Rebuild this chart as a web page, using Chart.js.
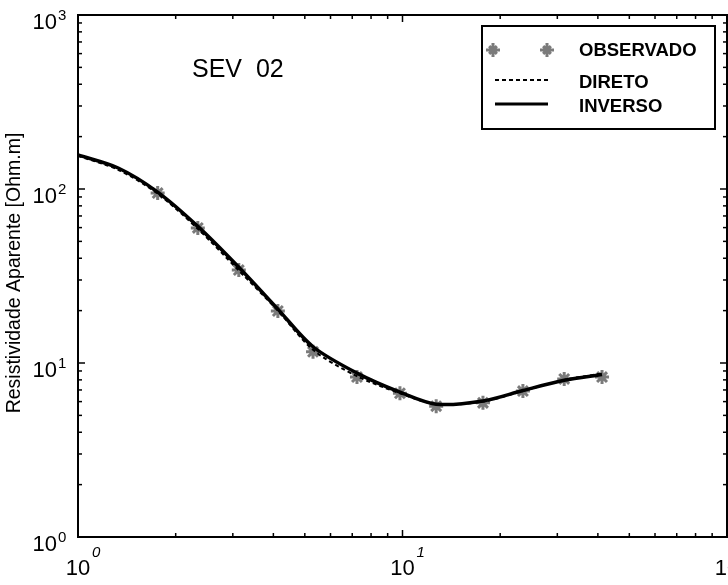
<!DOCTYPE html>
<html>
<head>
<meta charset="utf-8">
<script src="https://cdn.jsdelivr.net/npm/chart.js@4/dist/chart.umd.min.js"></script>
<style>
  html, body { margin: 0; padding: 0; background: #fff; overflow: hidden; }
  #wrap { width: 728px; height: 585px; overflow: hidden; }
  canvas { display: block; }
</style>
</head>
<body>
<!-- canvas um pouco mais largo: o Chart.js reserva ~10px a direita para os marcadores,
     e a figura original corta o rotulo 10^2 na borda -->
<div id="wrap"><canvas id="sev" width="737" height="585"></canvas></div>
<script>
// AB/2 dos pontos medidos e resistividade aparente observada
const abertura = [1.76, 2.34, 3.13, 4.13, 5.3, 7.24, 9.82, 12.7, 17.7, 23.5, 31.5, 41.2];
const observado = [94.8, 59.7, 34.2, 19.9, 11.6, 8.3, 6.7, 5.65, 5.9, 6.9, 8.1, 8.3];

// curvas do modelo (direto e inverso)
const aberturaModelo = [1.0, 1.33, 1.76, 2.34, 3.13, 4.13, 5.3, 7.24, 9.82, 12.7, 17.7, 23.5, 31.5, 41.2];
const direto = [155, 129, 94, 59, 34, 20, 11.9, 8.4, 6.7, 5.8, 6.0, 6.9, 8.0, 8.7];
const inverso = [157, 132, 96, 61, 35.5, 20.4, 12.4, 8.75, 6.8, 5.8, 6.05, 6.95, 7.95, 8.6];

const xDecadas = [0, 1, 2];
const yDecadas = [0, 1, 2, 3];

const FONT = '"Liberation Sans", Arial, sans-serif';
const CINZA = '#7b7b7b';

const pares = (xs, ys) => xs.map((x, i) => ({ x, y: ys[i] }));

// desenha moldura, ticks internos, rotulos e legenda
const moldura = {
  id: 'moldura',
  afterDraw(chart) {
    const { ctx, chartArea: a, scales } = chart;
    const sx = scales.x, sy = scales.y;
    ctx.save();
    ctx.strokeStyle = '#000';
    ctx.fillStyle = '#000';

    // ticks internos
    ctx.lineWidth = 1.5;
    const tick = (x1, y1, x2, y2) => {
      ctx.beginPath(); ctx.moveTo(x1, y1); ctx.lineTo(x2, y2); ctx.stroke();
    };
    for (let d = 0; d < 2; d++) {
      for (let m = 1; m <= 9; m++) {
        const px = sx.getPixelForValue(m * Math.pow(10, d));
        const len = m === 1 ? 7 : 4;
        tick(px, a.bottom, px, a.bottom - len);
        tick(px, a.top, px, a.top + len);
      }
    }
    for (let d = 0; d < 3; d++) {
      for (let m = 1; m <= 9; m++) {
        const py = sy.getPixelForValue(m * Math.pow(10, d));
        const len = m === 1 ? 7 : 4;
        tick(a.left, py, a.left + len, py);
        tick(a.right, py, a.right - len, py);
      }
    }

    // moldura
    ctx.lineWidth = 2;
    ctx.strokeRect(a.left, a.top, a.right - a.left, a.bottom - a.top);

    // rotulos do eixo y
    ctx.textBaseline = 'alphabetic';
    yDecadas.forEach(e => {
      const py = sy.getPixelForValue(Math.pow(10, e));
      ctx.font = '22px ' + FONT;
      ctx.textAlign = 'right';
      ctx.fillText('10', 57, py + 14);
      ctx.font = '15px ' + FONT;
      ctx.textAlign = 'left';
      ctx.fillText(String(e), 58, py + 5);
    });

    // rotulos do eixo x
    xDecadas.forEach(e => {
      const px = sx.getPixelForValue(Math.pow(10, e));
      ctx.font = '22px ' + FONT;
      ctx.textAlign = 'center';
      ctx.fillText('10', px, 575);
      ctx.font = 'italic 15px ' + FONT;
      ctx.textAlign = 'left';
      ctx.fillText(String(e), px + 14, 557);
    });

    // titulo do eixo y
    ctx.save();
    ctx.translate(15, 273);
    ctx.rotate(-Math.PI / 2);
    ctx.font = '19.5px ' + FONT;
    ctx.textAlign = 'center';
    ctx.textBaseline = 'middle';
    ctx.fillText('Resistividade Aparente [Ohm.m]', 0, 0);
    ctx.restore();

    // nome da sondagem
    ctx.font = '25px ' + FONT;
    ctx.textAlign = 'left';
    ctx.textBaseline = 'middle';
    ctx.fillText('SEV  02', 192, 70);

    // legenda
    ctx.fillStyle = '#fff';
    ctx.fillRect(482, 26, 233, 103);
    ctx.lineWidth = 2;
    ctx.strokeStyle = '#000';
    ctx.strokeRect(482, 26, 233, 103);

    const estrela = (x, y) => {
      ctx.save();
      ctx.strokeStyle = CINZA;
      ctx.lineWidth = 3;
      const r = 7;
      ctx.beginPath();
      ctx.moveTo(x - r, y); ctx.lineTo(x + r, y);
      ctx.moveTo(x, y - r); ctx.lineTo(x, y + r);
      const q = r * 0.55;
      ctx.moveTo(x - q, y - q); ctx.lineTo(x + q, y + q);
      ctx.moveTo(x - q, y + q); ctx.lineTo(x + q, y - q);
      ctx.stroke();
      ctx.restore();
    };
    estrela(493, 50);
    estrela(547, 50);

    ctx.strokeStyle = '#000';
    ctx.lineWidth = 2;
    ctx.setLineDash([4, 3]);
    tick(495, 80, 548, 80);
    ctx.setLineDash([]);
    ctx.lineWidth = 3;
    tick(495, 104, 548, 104);

    ctx.fillStyle = '#000';
    ctx.font = 'bold 18.5px ' + FONT;
    ctx.textAlign = 'left';
    ctx.textBaseline = 'middle';
    ctx.fillText('OBSERVADO', 579, 51);
    ctx.fillText('DIRETO', 579, 83);
    ctx.fillText('INVERSO', 579, 107);

    ctx.restore();
  }
};

new Chart(document.getElementById('sev'), {
  type: 'scatter',
  data: {
    datasets: [
      {
        label: 'INVERSO',
        data: pares(aberturaModelo, inverso),
        showLine: true,
        borderColor: '#000',
        borderWidth: 3.5,
        pointRadius: 0,
        tension: 0.3,
      },
      {
        label: 'DIRETO',
        data: pares(aberturaModelo, direto),
        showLine: true,
        borderColor: '#000',
        borderWidth: 2,
        borderDash: [4, 3],
        pointRadius: 0,
        tension: 0.3,
      },
      {
        label: 'OBSERVADO',
        data: pares(abertura, observado),
        showLine: false,
        pointStyle: 'star',
        pointRadius: 7,
        borderColor: CINZA,
        backgroundColor: CINZA,
        pointBorderWidth: 3,
      },
    ],
  },
  options: {
    responsive: false,
    animation: false,
    devicePixelRatio: 1,
    layout: { padding: { left: 78, top: 15, right: 1, bottom: 48 } },
    plugins: { legend: { display: false }, tooltip: { enabled: false } },
    scales: {
      x: { type: 'logarithmic', min: 1, max: 100, display: false },
      y: { type: 'logarithmic', min: 1, max: 1000, display: false },
    },
  },
  plugins: [moldura],
});
</script>
</body>
</html>
